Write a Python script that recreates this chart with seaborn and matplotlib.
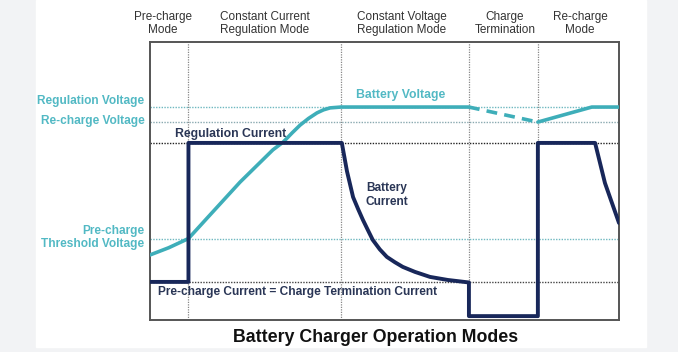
"""
Battery charger operation modes: voltage and current versus time.
"""

import matplotlib

matplotlib.use("Agg")
import matplotlib.pyplot as plt
import matplotlib.transforms as mtransforms
import pandas as pd
import seaborn as sns

# levels (arbitrary units, 0..100 of the plot height)
REG_V = 76.6
RECH_V = 71.2
REG_I = 63.7
THRESH_V = 29.1
PRE_I = 13.7

# mode boundaries on the time axis
mode_edges = [8.2, 40.7, 68.0, 82.7]
mode_names = ["Pre-charge\nMode", "Constant Current\nRegulation Mode",
              "Constant Voltage\nRegulation Mode", "Charge\nTermination", "Re-charge\nMode"]
mode_label_x = [2.8, 24.5, 53.7, 75.7, 91.7]

# battery voltage
volt_t = [0, 4.0, 8.2, 12.2, 19.2, 26.2, 28.4, 30.3, 32.0, 33.8, 35.6, 37.0, 38.4, 40.7, 68.0]
volt_v = [23.4, 26.0, 29.3, 36.7, 49.6, 61.2, 64.0, 67.3, 70.1, 72.5, 74.5, 75.6, 76.3, 76.6, 76.6]
# voltage drifting down after termination (dashed)
drift_t = [68.0, 82.7]
drift_v = [76.6, 71.2]
# voltage during re-charge
rech_t = [82.7, 94.2, 100]
rech_v = [71.2, 76.6, 76.6]

# battery current
curr_t = [0, 8.2, 8.2, 40.9, 42.0, 43.3, 44.4, 45.4, 46.5, 47.5, 49.0, 50.5, 52.2,
          53.9, 56.5, 59.7, 63.5, 68.0, 68.0, 82.7, 82.7, 94.9, 97.0, 100]
curr_i = [13.7, 13.7, 63.7, 63.7, 53.5, 44.2, 39.8, 36.0, 32.2, 28.8, 25.4, 22.7, 20.8,
          19.1, 17.3, 15.5, 14.4, 13.5, 1.4, 1.4, 63.7, 63.7, 49.3, 34.9]

TEAL = "#3eaeb9"
TEAL_TXT = "#52b9c4"
NAVY = "#18275a"
GREY = "#333333"

sns.set_theme(style="white")
plt.rcParams["font.family"] = ["Liberation Sans", "DejaVu Sans"]

fig = plt.figure(figsize=(6.78, 3.52), dpi=100, facecolor="#f2f3f5")
fig.patches.append(plt.Rectangle((36 / 678, 5 / 352), 610 / 678, 347 / 352,
                                 transform=fig.transFigure, color="white", zorder=-5))
ax = fig.add_axes([150 / 678, 32 / 352, 469 / 678, 278 / 352])
ax.set_zorder(2)
ax.set_xlim(0, 100)
ax.set_ylim(0, 100)
ax.set_xticks([])
ax.set_yticks([])
for s in ax.spines.values():
    s.set_color("#555555")
    s.set_linewidth(1.4)

dot = (0, (1, 1))
for x in mode_edges:
    ax.axvline(x, color="#888888", lw=0.9, ls=dot, zorder=1)
ax.axhline(REG_V, color="#6fb8c0", lw=1, ls=dot, zorder=1)
ax.axhline(RECH_V, color="#8aa9b0", lw=1, ls=dot, zorder=1)
ax.axhline(REG_I, color="#222222", lw=1, ls=dot, zorder=1)
ax.axhline(THRESH_V, color="#6fb8c0", lw=1, ls=dot, zorder=1)
ax.axhline(PRE_I, color="#444444", lw=1, ls=dot, zorder=1)

volt = pd.DataFrame({"t": volt_t, "v": volt_v})
sns.lineplot(data=volt, x="t", y="v", color=TEAL, lw=2.6, sort=False,
             estimator=None, ax=ax, zorder=3)
sns.lineplot(x=drift_t, y=drift_v, color=TEAL, lw=2.6, ls=(0, (3, 2)),
             estimator=None, ax=ax, zorder=3)
sns.lineplot(x=rech_t, y=rech_v, color=TEAL, lw=2.6, estimator=None, ax=ax, zorder=3)
curr = pd.DataFrame({"t": curr_t, "i": curr_i})
sns.lineplot(data=curr, x="t", y="i", color=NAVY, lw=2.8, sort=False,
             estimator=None, ax=ax, zorder=4)
ax.set_xlabel("")
ax.set_ylabel("")

# mode headers
top = mtransforms.blended_transform_factory(ax.transData, ax.transAxes)
for x, name in zip(mode_label_x, mode_names):
    ax.text(x, 1.022, name, transform=top, ha="center", va="bottom",
            fontsize=8.5, color=GREY, linespacing=1.1)

# left level labels
left = mtransforms.blended_transform_factory(ax.transAxes, ax.transData)
for y, lab in [(78.8, "Regulation Voltage"), (71.6, "Re-charge Voltage"),
               (29.6, "Pre-charge\nThreshold Voltage")]:
    ax.text(-0.012, y, lab, transform=left, ha="right", va="center", fontsize=8.6,
            fontweight="bold", color=TEAL_TXT, linespacing=1.15, multialignment="right")

ax.text(17.1, 66.9, "Regulation Current", ha="center", va="center", fontsize=8.8,
        fontweight="bold", color="#2a3656", zorder=5)
ax.text(53.5, 80.9, "Battery Voltage", ha="center", va="center", fontsize=8.8,
        fontweight="bold", color=TEAL_TXT)
ax.text(50.5, 45.0, "Battery\nCurrent", ha="center", va="center", fontsize=8.6,
        fontweight="bold", color="#2a3656", linespacing=1.15)
ax.text(1.7, 10.1, "Pre-charge Current = Charge Termination Current", ha="left",
        va="center", fontsize=8.6, fontweight="bold", color="#2a3656")

fig.text(376 / 678, 1 - 337 / 352, "Battery Charger Operation Modes", ha="center",
         va="center", fontsize=12.8, fontweight="bold", color="#111111")

fig.savefig("out.png", dpi=100, facecolor=fig.get_facecolor())
